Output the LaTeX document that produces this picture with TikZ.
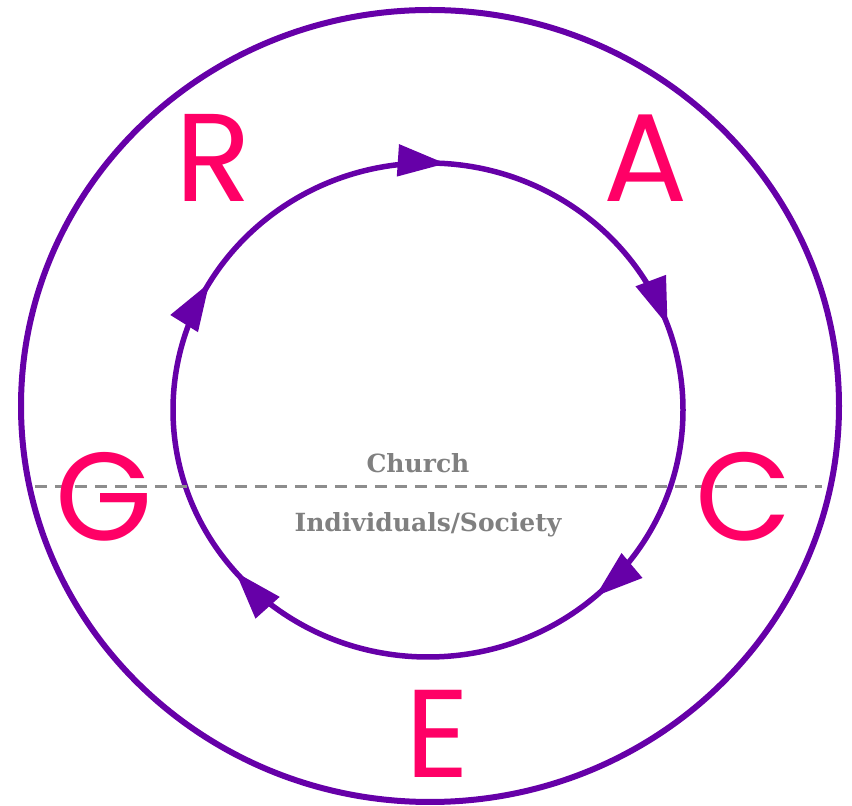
\documentclass[tikz,border=0pt]{standalone}
\usepackage{fontspec}
\usetikzlibrary{arrows.meta}
\newfontfamily\letterfont{Poppins}
\newfontfamily\labelfont{DejaVu Serif}
\definecolor{ringpurple}{HTML}{6600A8}
\definecolor{letterpink}{HTML}{FF0066}
\definecolor{labelgray}{HTML}{808080}
\begin{document}
\begin{tikzpicture}[x=1pt,y=1pt,
  ring/.style={draw=ringpurple,line width=5.5pt},
  arr/.style={ringpurple,line width=5.5pt,-{Triangle[length=48pt,width=31pt]}},
  letter/.style={text=letterpink,anchor=base,inner sep=0pt,text depth=0pt,font=\letterfont\fontsize{125}{125}\selectfont},
  lbl/.style={text=labelgray,anchor=base,inner sep=0pt,text depth=0pt,font=\labelfont\bfseries\fontsize{25}{25}\selectfont},
  divider/.style={draw=labelgray!90,line width=3pt,dash pattern=on 12pt off 8pt}]
\useasboundingbox (0,0) rectangle (852,806);
% outer and inner rings
\draw[ring,line width=6pt] (430,400) ellipse [x radius=409pt, y radius=396pt];
\draw[ring] (428,396) ellipse [x radius=255pt, y radius=247pt];
% arrowheads on inner ring (clockwise)
\foreach \b in {86,20,-49,-139,149}{
  \pgfmathsetmacro{\a}{\b+10}
  \draw[arr] ([shift={(\a:255pt and 247pt)}]428,396) arc[start angle=\a, end angle=\b, x radius=255pt, y radius=247pt];
}
% divider
\coordinate (dl) at (35,319);
\coordinate (dr) at (822,319);
\draw[divider] (dl) -- (dr);
% labels
\node[lbl] (church) at (418,333) {Church};
\node[lbl] (indiv) at (428,274) {Individuals/Society};
% letters
\node[letter] (R) at (213.5,604) {R};
\node[letter] (A) at (645.5,604) {A};
\node[letter] (G) at (104.5,265) {G};
\node[letter] (C) at (744,265) {C};
\node[letter] (E) at (438,28) {E};
\end{tikzpicture}
\end{document}
